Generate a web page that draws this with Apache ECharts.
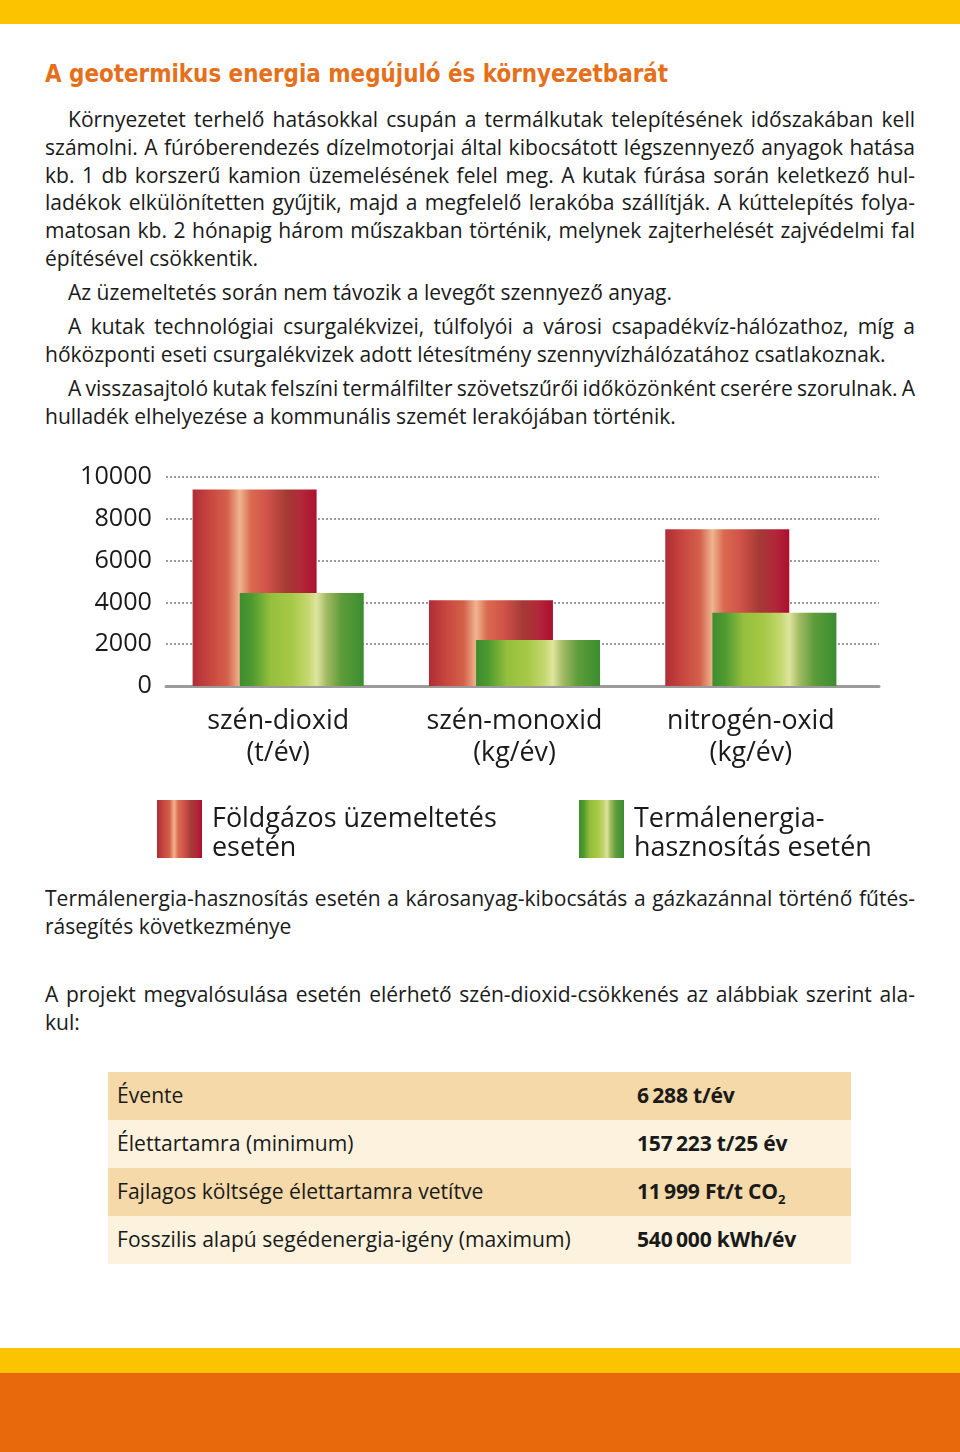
<!DOCTYPE html>
<html><head><meta charset="utf-8">
<script src="https://cdn.jsdelivr.net/npm/echarts@6/dist/echarts.min.js"></script>
<style>
html,body{margin:0;padding:0;background:#fff;}
body{width:960px;height:1452px;position:relative;overflow:hidden;font-family:'Open Sans',sans-serif;color:#1a1a1a;}
.band{position:absolute;left:0;width:960px;}
#title{position:absolute;left:45px;top:58px;font-family:'Liberation Sans Narrow','DejaVu Sans Condensed',sans-serif;font-weight:bold;font-size:25.5px;line-height:30px;color:#E5701B;white-space:nowrap;transform-origin:0 0;}
.para{position:absolute;left:45px;width:870px;line-height:27.8px;}
.j{text-align:justify;text-align-last:justify;word-spacing:-4px;}
.l{text-align:left;white-space:nowrap;}
.ind{padding-left:23px;}
#chart{position:absolute;left:0;top:440px;width:960px;height:440px;}
#tbl{position:absolute;left:108px;top:1072px;width:743px;}
.row{position:relative;height:48px;line-height:46px;}
.row .c1{position:absolute;left:9px;top:0;white-space:nowrap;}
.row .c2{position:absolute;left:529px;top:0;white-space:nowrap;font-weight:700;letter-spacing:-0.2px;}
sub{font-size:0.62em;line-height:0;vertical-align:-0.35em;}
</style>
</head><body>
<div class="band" style="top:0;height:24px;background:#FCC400;"></div>
<div id="title">A geotermikus energia megújuló és környezetbarát</div>

<div class="para" id="p1" style="top:106px;"></div>
<div class="para" id="p2" style="top:279px;"></div>
<div class="para" id="p3" style="top:313px;"></div>
<div class="para" id="p4" style="top:375px;"></div>

<div id="chart"></div>

<div class="para" id="p5" style="top:885px;"></div>
<div class="para" id="p6" style="top:981px;"></div>

<div id="tbl"></div>

<div class="band" style="top:1348px;height:25px;background:#FCC400;"></div>
<div class="band" style="top:1373px;height:79px;background:#E8690C;"></div>

<script>
// ---- DATA ----
const categories = ['szén-dioxid\n(t/év)', 'szén-monoxid\n(kg/év)', 'nitrogén-oxid\n(kg/év)'];
const foldgazValues = [9400, 4100, 7500];
const termalValues = [4450, 2200, 3500];
const yMin = 0, yMax = 10000, yInterval = 2000;
const seriesNames = ['Földgázos üzemeltetés esetén', 'Termálenergia-hasznosítás esetén'];
const legendLines = [['Földgázos üzemeltetés', 'esetén'], ['Termálenergia-', 'hasznosítás esetén']];
const tableLabels = ['Évente', 'Élettartamra (minimum)', 'Fajlagos költsége élettartamra vetítve', 'Fosszilis alapú segédenergia-igény (maximum)'];
const tableValues = ['6\u2009288 t/év', '157\u2009223 t/25 év', '11\u2009999 Ft/t CO<sub>2</sub>', '540\u2009000 kWh/év'];
const tableColors = ['#F5D9A9', '#FDF2DD', '#F5D9A9', '#FDF2DD'];

// paragraphs: [class, text]
const para1 = [
 ['j ind', 'Környezetet terhelő hatásokkal csupán a termálkutak telepítésének időszakában kell'],
 ['j', 'számolni. A fúróberendezés dízelmotorjai által kibocsátott légszennyező anyagok hatása'],
 ['j', 'kb. 1 db korszerű kamion üzemelésének felel meg. A kutak fúrása során keletkező hul-'],
 ['j', 'ladékok elkülönítetten gyűjtik, majd a megfelelő lerakóba szállítják. A kúttelepítés folya-'],
 ['j', 'matosan kb. 2 hónapig három műszakban történik, melynek zajterhelését zajvédelmi fal'],
 ['l', 'építésével csökkentik.']
];
const para2 = [['l ind', 'Az üzemeltetés során nem távozik a levegőt szennyező anyag.']];
const para3 = [
 ['j ind', 'A kutak technológiai csurgalékvizei, túlfolyói a városi csapadékvíz-hálózathoz, míg a'],
 ['l', 'hőközponti eseti csurgalékvizek adott létesítmény szennyvízhálózatához csatlakoznak.']
];
const para4 = [
 ['j ind', 'A visszasajtoló kutak felszíni termálfilter szövetszűrői időközönként cserére szorulnak. A'],
 ['l', 'hulladék elhelyezése a kommunális szemét lerakójában történik.']
];
const para5 = [
 ['j', 'Termálenergia-hasznosítás esetén a károsanyag-kibocsátás a gázkazánnal történő fűtés-'],
 ['l', 'rásegítés következménye']
];
const para6 = [
 ['j', 'A projekt megvalósulása esetén elérhető szén-dioxid-csökkenés az alábbiak szerint ala-'],
 ['l', 'kul:']
];

// ---- font fitting ----
const FAM = "'Open Sans'";
const cv = document.createElement('canvas').getContext('2d');
function fit(text, weight, target) {
  cv.font = weight + ' 100px ' + FAM;
  return 100 * target / cv.measureText(text).width;
}
const bodySize = fit(para3[1][1], '400', 841);
function fill(id, lines) {
  const el = document.getElementById(id);
  el.style.fontSize = bodySize + 'px';
  lines.forEach(([c, t]) => {
    const d = document.createElement('div');
    d.className = c; d.textContent = t; el.appendChild(d);
  });
}
fill('p1', para1); fill('p2', para2); fill('p3', para3); fill('p4', para4); fill('p5', para5); fill('p6', para6);

// title width fit
const title = document.getElementById('title');
const tw = title.getBoundingClientRect().width;
title.style.transform = 'scaleX(' + (623 / tw) + ')';

// table
const tblSize = fit(tableLabels[3], '400', 454);
const tbl = document.getElementById('tbl');
tbl.style.fontSize = tblSize + 'px';
tableLabels.forEach((lab, i) => {
  const r = document.createElement('div');
  r.className = 'row'; r.style.background = tableColors[i];
  r.innerHTML = '<span class="c1"></span><span class="c2">' + tableValues[i] + '</span>';
  r.querySelector('.c1').textContent = lab;
  tbl.appendChild(r);
});

// ---- chart ----
const yLabelSize = fit('10000', '400', 72);
const catSize = fit('szén-monoxid', '400', 176);
const legendSize = fit('Földgázos üzemeltetés', '400', 285);

const redGrad = {type:'linear', x:0, y:0, x2:1, y2:0, colorStops:[
  {offset:0, color:'#AE2E37'}, {offset:0.14, color:'#C8463F'}, {offset:0.28, color:'#D4604B'},
  {offset:0.38, color:'#EFB58E'}, {offset:0.47, color:'#DA6A51'}, {offset:0.6, color:'#D1534A'},
  {offset:0.76, color:'#A43A34'}, {offset:0.88, color:'#B2283A'}, {offset:1, color:'#AC0F2E'}]};
const greenGrad = {type:'linear', x:0, y:0, x2:1, y2:0, colorStops:[
  {offset:0, color:'#3D8D2E'}, {offset:0.1, color:'#4E9A31'}, {offset:0.25, color:'#95BF3D'},
  {offset:0.42, color:'#A7C947'}, {offset:0.55, color:'#C3D76F'}, {offset:0.62, color:'#DFE59E'},
  {offset:0.7, color:'#A3BA64'}, {offset:0.82, color:'#5E9C3B'}, {offset:1, color:'#3A8D2E'}]};

const chart = echarts.init(document.getElementById('chart'), null, {renderer:'canvas'});
const legendText = {fontFamily:FAM, fontSize:legendSize, lineHeight:29, color:'#1a1a1a', padding:[0,0,0,5],
  rich:{
    s:{fontSize:10, lineHeight:10},
    a:{fontFamily:FAM, fontSize:legendSize, lineHeight:29, color:'#1a1a1a'}
  }};
const legendFmt = i => () => '{s| }\n{a|' + legendLines[i][0] + '}\n{a|' + legendLines[i][1] + '}';
chart.setOption({
  animation:false,
  grid:[
    {left:166, top:37, width:713, height:209},
    {left:160, top:37, width:709, height:209}
  ],
  xAxis:[
    {gridIndex:0, type:'category', data:categories, axisLine:{show:true, lineStyle:{color:'#9B9B9B', width:3}},
     axisTick:{show:false}, axisLabel:{show:false}, splitLine:{show:false}},
    {gridIndex:1, type:'category', data:categories, axisLine:{show:false}, axisTick:{show:false},
     axisLabel:{fontFamily:FAM, fontSize:catSize, lineHeight:32, color:'#1a1a1a', margin:19}}
  ],
  yAxis:[
    {gridIndex:0, type:'value', min:yMin, max:yMax, interval:yInterval,
     axisLine:{show:false}, axisTick:{show:false},
     axisLabel:{fontFamily:FAM, fontSize:yLabelSize, color:'#1a1a1a', margin:14, formatter:v => String(v)},
     splitLine:{show:true, lineStyle:{color:'#9A9A9A', width:2, type:[2,2]}}},
    {gridIndex:1, type:'value', min:yMin, max:yMax, interval:yInterval, show:false, splitLine:{show:false}}
  ],
  legend:[
    {data:[seriesNames[0]], left:157, top:355, padding:0, itemWidth:45, itemHeight:58, icon:'rect',
     selectedMode:false, formatter:legendFmt(0), textStyle:legendText},
    {data:[seriesNames[1]], left:579, top:355, padding:0, itemWidth:45, itemHeight:58, icon:'rect',
     selectedMode:false, formatter:legendFmt(1), textStyle:legendText}
  ],
  series:[
    {name:seriesNames[0], type:'bar', xAxisIndex:1, yAxisIndex:1, data:foldgazValues,
     barWidth:124, barGap:'-62%', itemStyle:{color:redGrad}},
    {name:seriesNames[1], type:'bar', xAxisIndex:1, yAxisIndex:1, data:termalValues,
     barWidth:124, itemStyle:{color:greenGrad}}
  ]
});
</script>
</body></html>
